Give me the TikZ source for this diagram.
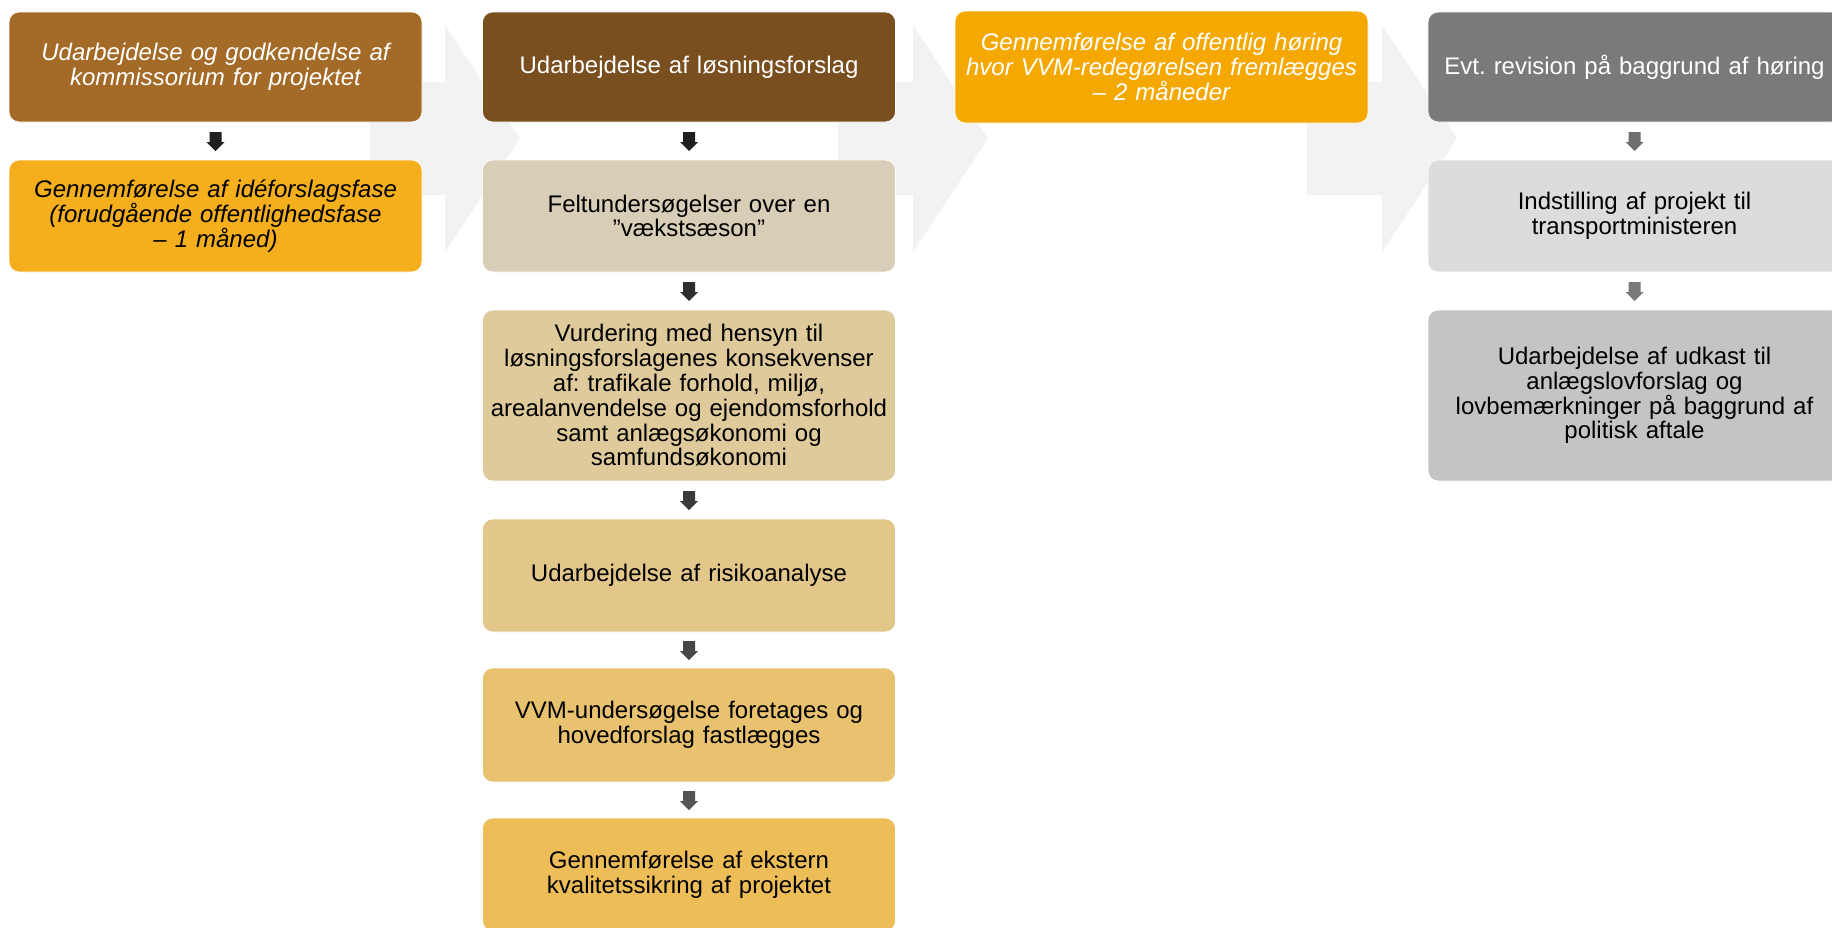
\documentclass[tikz,border=0pt]{standalone}
\usepackage{fontspec}
\setmainfont{Liberation Sans}
\usetikzlibrary{calc}
\frenchspacing
\definecolor{bgarrow}{HTML}{F2F2F2}
\definecolor{cAa}{HTML}{A36B27}
\definecolor{cAb}{HTML}{F5AF1C}
\definecolor{cBa}{HTML}{7A4F1F}
\definecolor{cBb}{HTML}{D8CDB7}
\definecolor{cBc}{HTML}{DFCA9C}
\definecolor{cBd}{HTML}{E3C68A}
\definecolor{cBe}{HTML}{E9C270}
\definecolor{cBf}{HTML}{EDBD58}
\definecolor{cCa}{HTML}{F5A800}
\definecolor{cDa}{HTML}{7A7A7A}
\definecolor{cDb}{HTML}{DCDCDC}
\definecolor{cDc}{HTML}{C4C4C4}
\tikzset{
  box/.style={rectangle, rounded corners=5pt, inner sep=0pt, draw=white, line width=0.4pt,
    minimum width=206.5pt, text width=201pt, align=center,
    font=\fontsize{12}{12.4}\selectfont},
  pics/dnarrow/.style={code={\fill[#1] (-6,-9)--(6,-9)--(6,1)--(9,1)--(0,10)--(-9,1)--(-6,1)--cycle;}},
}
\begin{document}
\frenchspacing
\begin{tikzpicture}[x=0.5pt,y=-0.5pt]
\useasboundingbox (0,0) rectangle (1832,927);
\clip (0,0) rectangle (1832,927);
\fill[white] (0,0) rectangle (1832,927);
% background block arrows
\foreach \L in {370,838,1307}{
  \fill[bgarrow] (\L,82) -- ({\L+75},82) -- ({\L+75},25) -- ({\L+150},138.5) -- ({\L+75},252) -- ({\L+75},195) -- (\L,195) -- cycle;
}
% column 1
\node[box, fill=cAa, text=white, minimum height=55pt, font=\fontsize{12}{12.4}\selectfont\itshape] (A1) at (215.5,67) {Udarbejdelse og godkendelse af\\kommissorium for projektet};
\node[box, fill=cAb, text=black, minimum height=56pt, font=\fontsize{12}{12.4}\selectfont\itshape] (A2) at (215.5,216) {Gennemførelse af idéforslagsfase\\(forudgående offentlighedsfase\\– 1 måned)};
% column 2
\node[box, fill=cBa, text=white, minimum height=55pt] (B1) at (689,67) {Udarbejdelse af løsningsforslag};
\node[box, fill=cBb, text=black, minimum height=56pt] (B2) at (689,216) {Feltundersøgelser over en\\”vækstsæson”};
\node[box, fill=cBc, text=black, minimum height=85.5pt] (B3) at (689,395.5) {Vurdering med hensyn til\\løsningsforslagenes konsekvenser\\af: trafikale forhold, miljø,\\arealanvendelse og ejendomsforhold\\samt anlægsøkonomi og\\samfundsøkonomi};
\node[box, fill=cBd, text=black, minimum height=56.5pt] (B4) at (689,575.5) {Udarbejdelse af risikoanalyse};
\node[box, fill=cBe, text=black, minimum height=57pt] (B5) at (689,725) {VVM-undersøgelse foretages og\\hovedforslag fastlægges};
\node[box, fill=cBf, text=black, minimum height=56.5pt] (B6) at (689,874.5) {Gennemførelse af ekstern\\kvalitetssikring af projektet};
% column 3
\node[box, fill=cCa, text=white, minimum height=56pt, font=\fontsize{12}{12.4}\selectfont\itshape] (C1) at (1161.5,67) {Gennemførelse af offentlig høring\\hvor VVM-redegørelsen fremlægges\\– 2 måneder};
% column 4
\node[box, fill=cDa, text=white, minimum height=55pt] (D1) at (1634.5,67) {Evt. revision på baggrund af høring};
\node[box, fill=cDb, text=black, minimum height=56pt] (D2) at (1634.5,216) {Indstilling af projekt til\\transportministeren};
\node[box, fill=cDc, text=black, minimum height=85.5pt] (D3) at (1634.5,395.5) {Udarbejdelse af udkast til\\anlægslovforslag og\\lovbemærkninger på baggrund af\\politisk aftale};
% small down arrows
\path ($(A1.south)!0.5!(A2.north)$) pic {dnarrow={black!88}};
\path ($(B1.south)!0.5!(B2.north)$) pic {dnarrow={black!88}};
\path ($(B2.south)!0.5!(B3.north)$) pic {dnarrow={black!82}};
\path ($(B3.south)!0.5!(B4.north)$) pic {dnarrow={black!77}};
\path ($(B4.south)!0.5!(B5.north)$) pic {dnarrow={black!72}};
\path ($(B5.south)!0.5!(B6.north)$) pic {dnarrow={black!67}};
\path ($(D1.south)!0.5!(D2.north)$) pic {dnarrow={black!57}};
\path ($(D2.south)!0.5!(D3.north)$) pic {dnarrow={black!52}};
\end{tikzpicture}
\end{document}
